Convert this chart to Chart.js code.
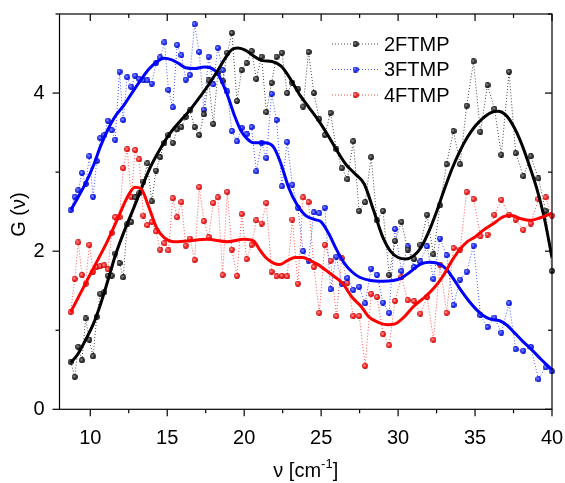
<!DOCTYPE html>
<html>
<head>
<meta charset="utf-8">
<script src="https://cdn.jsdelivr.net/npm/chart.js@4/dist/chart.umd.min.js"></script>
<style>
  html, body { margin: 0; padding: 0; background: #fff; }
</style>
</head>
<body>
<canvas id="chart" width="565" height="483"></canvas>
<script>
// wavenumber grid (cm^-1), shared by the three measured series
const nu = [8.73, 8.99, 9.22, 9.46, 9.70, 9.94, 10.18, 10.42, 10.65, 10.91,
  11.15, 11.39, 11.62, 11.90, 12.14, 12.40, 12.66, 12.92, 13.18, 13.45,
  13.71, 13.99, 14.27, 14.54, 14.82, 15.08, 15.36, 15.64, 15.92, 16.20,
  16.47, 16.78, 17.08, 17.38, 17.69, 17.99, 18.29, 18.60, 18.90, 19.20,
  19.53, 19.84, 20.16, 20.48, 20.79, 21.13, 21.44, 21.78, 22.10, 22.45,
  22.79, 23.13, 23.49, 23.83, 24.18, 24.53, 24.88, 25.24, 25.61, 25.99,
  26.34, 26.71, 27.09, 27.47, 27.86, 28.25, 28.63, 29.02, 29.42, 29.80,
  30.22, 30.63, 31.04, 31.45, 31.88, 32.30, 32.72, 33.15, 33.60, 34.03,
  34.46, 34.90, 35.35, 35.81, 36.26, 36.71, 37.21, 37.64, 38.14, 38.62,
  39.12, 39.59, 40.00];

const g2 = [0.60, 0.41, 0.79, 0.62, 1.15, 0.88, 0.67, 1.17, 1.46, 1.48,
  1.69, 1.69, 1.97, 1.85, 1.67, 2.34, 2.37, 2.68, 2.73, 2.88,
  3.11, 2.63, 3.02, 3.19, 3.37, 3.47, 3.37, 3.54, 3.57, 3.70,
  3.78, 3.57, 3.47, 3.73, 4.16, 3.61, 4.25, 4.15, 4.51, 4.76,
  3.90, 4.29, 4.38, 4.53, 4.18, 4.46, 3.76, 4.13, 4.46, 4.51,
  4.00, 4.13, 4.05, 3.83, 4.52, 4.00, 3.67, 3.47, 3.75, 3.29,
  3.05, 2.91, 3.39, 2.51, 2.62, 3.19, 2.39, 2.51, 1.70, 2.13,
  2.37, 2.02, 1.90, 2.08, 2.46, 1.96, 2.58, 3.10, 3.52, 3.10,
  3.84, 4.40, 3.51, 4.10, 3.80, 3.22, 4.27, 3.24, 2.95, 3.20,
  2.92, 2.51, 1.75];

const g3 = [2.52, 2.69, 2.77, 2.99, 2.85, 3.20, 2.69, 3.14, 3.43, 3.47,
  3.65, 3.53, 3.41, 4.27, 3.66, 4.20, 4.08, 4.22, 4.18, 4.16,
  4.16, 4.12, 4.38, 4.45, 4.64, 4.04, 3.82, 4.61, 4.48, 4.17,
  4.23, 4.87, 4.52, 3.79, 4.46, 4.11, 4.57, 4.29, 4.02, 3.52,
  3.39, 3.56, 3.48, 3.57, 3.01, 3.37, 3.18, 3.99, 3.66, 2.82,
  3.38, 2.84, 2.55, 2.00, 1.88, 2.49, 2.48, 2.55, 1.52, 1.93,
  1.59, 1.66, 1.51, 1.55, 1.34, 1.78, 1.70, 1.35, 1.22, 2.28,
  1.75, 2.06, 1.80, 1.87, 2.06, 1.65, 2.16, 1.95, 1.32, 1.64,
  1.74, 2.07, 1.19, 1.04, 1.16, 0.97, 1.34, 0.76, 0.74, 0.79,
  0.38, 0.53, 0.48];

const g4 = [1.23, 1.65, 2.11, 1.70, 1.59, 2.08, 1.74, 1.80, 1.81, 1.82,
  1.77, 2.23, 2.43, 2.43, 3.05, 3.29, 2.69, 3.28, 3.16, 2.45,
  2.33, 2.37, 2.25, 2.02, 2.10, 2.01, 2.67, 2.43, 2.62, 2.07,
  2.16, 1.89, 2.81, 2.38, 2.18, 2.61, 2.68, 1.70, 2.75, 2.02,
  1.69, 2.47, 1.90, 2.08, 2.39, 2.35, 2.61, 1.74, 1.68, 1.69,
  1.68, 2.40, 1.59, 2.68, 2.62, 1.80, 1.22, 2.08, 1.88, 1.18,
  1.91, 1.60, 1.18, 1.18, 0.55, 1.46, 1.42, 0.95, 0.81, 1.37,
  1.67, 1.38, 1.37, 1.21, 1.42, 0.88, 1.83, 1.22, 2.04, 2.02,
  2.75, 2.66, 2.19, 2.21, 2.46, 2.65, 2.46, 2.40, 2.27, 2.35,
  2.66, 2.68, 2.45];

// smoothed curves
const fitNu2 = [8.73, 9.2, 9.7, 10.2, 10.65, 11.1, 11.6, 12.1, 12.6, 13.1,
  13.5, 14.0, 14.5, 15.0, 15.5, 16.0, 16.5, 17.0, 17.6, 18.2,
  18.7, 19.2, 19.6, 20.1, 20.6, 21.2, 21.8, 22.4, 23.0, 23.6,
  24.2, 24.8, 25.4, 26.0, 26.6, 27.2, 27.8, 28.4, 29.0, 29.5,
  30.0, 30.5, 31.0, 31.5, 32.0, 32.5, 33.0, 33.5, 34.0, 34.5,
  35.0, 35.5, 36.0, 36.5, 37.0, 37.5, 38.0, 38.5, 39.0, 39.5, 40.0];
const fit2 = [0.59, 0.70, 0.88, 1.08, 1.32, 1.60, 1.93, 2.20, 2.44, 2.68,
  2.88, 3.10, 3.28, 3.44, 3.57, 3.68, 3.79, 3.92, 4.08, 4.26,
  4.42, 4.55, 4.57, 4.54, 4.47, 4.41, 4.40, 4.34, 4.18, 3.98,
  3.82, 3.66, 3.48, 3.28, 3.10, 2.98, 2.85, 2.52, 2.18, 2.00,
  1.92, 1.90, 1.94, 2.05, 2.25, 2.50, 2.78, 3.04, 3.26, 3.44,
  3.58, 3.68, 3.75, 3.77, 3.72, 3.58, 3.37, 3.10, 2.80, 2.42, 1.92];

const fitNu3 = [8.73, 9.2, 9.7, 10.2, 10.65, 11.1, 11.6, 12.2, 12.7, 13.3,
  13.8, 14.35, 14.8, 15.3, 15.7, 16.2, 16.8, 17.4, 17.8, 18.3,
  18.9, 19.4, 19.8, 20.2, 20.6, 21.3, 21.9, 22.4, 22.9, 23.4,
  24.0, 24.6, 25.0, 25.5, 26.0, 26.5, 27.0, 27.5, 28.2, 29.0,
  29.7, 30.2, 30.8, 31.4, 32.0, 32.5, 33.1, 33.6, 34.1, 34.6,
  35.0, 35.5, 36.0, 36.6, 37.1, 37.6, 38.1, 38.7, 39.3, 40.0];
const fit3 = [2.52, 2.68, 2.86, 3.08, 3.32, 3.52, 3.70, 3.85, 4.00, 4.17,
  4.30, 4.40, 4.44, 4.42, 4.38, 4.32, 4.31, 4.33, 4.32, 4.24,
  3.98, 3.70, 3.52, 3.42, 3.37, 3.37, 3.32, 3.10, 2.80, 2.60,
  2.45, 2.40, 2.37, 2.22, 2.02, 1.85, 1.74, 1.67, 1.63, 1.62,
  1.63, 1.66, 1.74, 1.83, 1.86, 1.85, 1.78, 1.65, 1.50, 1.37,
  1.28, 1.19, 1.14, 1.12, 1.06, 0.96, 0.86, 0.75, 0.63, 0.50];

const fitNu4 = [8.73, 9.5, 10.3, 11.1, 11.8, 12.4, 12.9, 13.3, 13.8, 14.3,
  14.8, 15.4, 16.3, 17.6, 18.9, 20.0, 20.6, 21.0, 21.4, 21.9,
  22.3, 22.8, 23.3, 23.8, 24.3, 24.8, 25.5, 26.4, 27.0, 27.6,
  28.1, 28.7, 29.3, 29.8, 30.4, 31.0, 31.8, 32.4, 32.9, 33.5,
  34.0, 34.5, 35.0, 35.5, 36.2, 36.9, 37.4, 38.0, 38.6, 39.2, 40.0];
const fit4 = [1.23, 1.52, 1.82, 2.12, 2.42, 2.68, 2.81, 2.79, 2.56, 2.30,
  2.17, 2.12, 2.13, 2.15, 2.12, 2.15, 2.13, 2.02, 1.92, 1.85,
  1.83, 1.88, 1.92, 1.92, 1.88, 1.83, 1.73, 1.59, 1.42, 1.30,
  1.17, 1.10, 1.07, 1.08, 1.17, 1.30, 1.43, 1.55, 1.68, 1.88,
  2.02, 2.12, 2.18, 2.26, 2.35, 2.44, 2.45, 2.41, 2.39, 2.42, 2.48];

const seriesNames = ['2FTMP', '3FTMP', '4FTMP'];
const xMajor = [10, 15, 20, 25, 30, 35, 40];
const xMinor = [12.5, 17.5, 22.5, 27.5, 32.5, 37.5];
const yMajor = [0, 2, 4];
const yMinor = [1, 3, 5];

const FONT = "'Liberation Sans', Arial, sans-serif";

// little shaded balls like the Origin markers
function ball(hi, mid, edge) {
  const c = document.createElement('canvas');
  c.width = c.height = 6;
  const g = c.getContext('2d');
  const gr = g.createRadialGradient(2.2, 2.2, 0.2, 3, 3, 3);
  gr.addColorStop(0, hi);
  gr.addColorStop(0.55, mid);
  gr.addColorStop(1, edge);
  g.fillStyle = gr;
  g.beginPath();
  g.arc(3, 3, 2.9, 0, Math.PI * 2);
  g.fill();
  return c;
}

const balls = [
  ball('#9a9a9a', '#333', '#000'),
  ball('#9aa8ff', '#1a2cff', '#0000b0'),
  ball('#ffb0b0', '#ff2020', '#b00000')
];
const dotColors = ['#444', '#4455ff', '#ff5050'];
const lineColors = ['#000', '#0000ff', '#ff0000'];

const toPts = (xs, ys) => xs.map((x, i) => ({ x: x, y: ys[i] }));

function fitSet(xs, ys, color) {
  return {
    data: toPts(xs, ys),
    showLine: true,
    borderColor: color,
    borderWidth: 3,
    pointRadius: 0,
    cubicInterpolationMode: 'monotone',
    fill: false
  };
}

function rawSet(ys, k) {
  return {
    data: toPts(nu, ys),
    showLine: true,
    borderColor: dotColors[k],
    borderWidth: 1,
    borderDash: [1, 2],
    pointStyle: balls[k],
    pointRadius: 3,
    clip: false
  };
}

const decor = {
  id: 'decor',
  afterDraw(chart) {
    const { ctx, chartArea: a, scales: { x, y } } = chart;
    ctx.save();
    ctx.strokeStyle = '#000';
    ctx.lineWidth = 1.2;
    ctx.setLineDash([]);
    ctx.strokeRect(a.left, a.top, a.right - a.left, a.bottom - a.top);

    function seg(x0, y0, x1, y1) {
      ctx.beginPath();
      ctx.moveTo(x0, y0);
      ctx.lineTo(x1, y1);
      ctx.stroke();
    }
    xMajor.forEach(v => {
      const p = x.getPixelForValue(v);
      seg(p, a.bottom, p, a.bottom + 7);
      seg(p, a.top, p, a.top + 7);
    });
    xMinor.forEach(v => {
      const p = x.getPixelForValue(v);
      seg(p, a.bottom, p, a.bottom + 4);
      seg(p, a.top, p, a.top + 4);
    });
    yMajor.forEach(v => {
      const p = y.getPixelForValue(v);
      seg(a.left - 7, p, a.left, p);
      seg(a.right - 7, p, a.right, p);
    });
    yMinor.forEach(v => {
      const p = y.getPixelForValue(v);
      seg(a.left - 4, p, a.left, p);
      seg(a.right - 4, p, a.right, p);
    });

    // axis titles
    ctx.fillStyle = '#000';
    ctx.font = '20px ' + FONT;
    ctx.textBaseline = 'alphabetic';
    const t1 = '\u03bd [cm', t2 = '-1', t3 = ']';
    const w1 = ctx.measureText(t1).width;
    ctx.font = '13px ' + FONT;
    const w2 = ctx.measureText(t2).width;
    ctx.font = '20px ' + FONT;
    const w3 = ctx.measureText(t3).width;
    let tx = (a.left + a.right) / 2 - (w1 + w2 + w3) / 2;
    const ty = 477;
    ctx.textAlign = 'left';
    ctx.fillText(t1, tx, ty);
    ctx.font = '13px ' + FONT;
    ctx.fillText(t2, tx + w1, ty - 9);
    ctx.font = '20px ' + FONT;
    ctx.fillText(t3, tx + w1 + w2, ty);

    ctx.save();
    ctx.translate(25, (a.top + a.bottom) / 2 + 3);
    ctx.rotate(-Math.PI / 2);
    ctx.textAlign = 'center';
    ctx.fillText('G (\u03bd)', 0, 0);
    ctx.restore();

    // legend
    const rows = [44, 69.5, 95];
    ctx.font = '20px ' + FONT;
    ctx.textAlign = 'left';
    ctx.textBaseline = 'middle';
    seriesNames.forEach((name, k) => {
      const ry = rows[k];
      ctx.strokeStyle = dotColors[k];
      ctx.lineWidth = 1;
      ctx.setLineDash([1, 2]);
      seg(332, ry, 379, ry);
      ctx.setLineDash([]);
      ctx.drawImage(balls[k], 352.5, ry - 3);
      ctx.fillStyle = '#000';
      ctx.fillText(name, 384, ry + 1);
    });
    ctx.restore();
  }
};

new Chart(document.getElementById('chart'), {
  type: 'scatter',
  data: {
    datasets: [
      fitSet(fitNu4, fit4, lineColors[2]),
      fitSet(fitNu2, fit2, lineColors[0]),
      fitSet(fitNu3, fit3, lineColors[1]),
      rawSet(g2, 0),
      rawSet(g3, 1),
      rawSet(g4, 2)
    ]
  },
  options: {
    responsive: false,
    animation: false,
    devicePixelRatio: 1,
    layout: { padding: { left: 0, right: 13, top: 14, bottom: 0 } },
    plugins: { legend: { display: false }, tooltip: { enabled: false } },
    scales: {
      x: {
        type: 'linear',
        min: 8,
        max: 40,
        afterFit: s => { s.height = 73.7; },
        afterBuildTicks: s => { s.ticks = xMajor.map(v => ({ value: v })); },
        // tick marks are drawn by the plugin; tickLength only offsets the labels
        grid: { display: false, drawTicks: true, tickLength: 17 },
        border: { display: false },
        ticks: { font: { size: 20, family: FONT }, color: '#000', padding: 0, maxRotation: 0 }
      },
      y: {
        type: 'linear',
        min: 0,
        max: 5,
        afterFit: s => { s.width = 59.5; },
        afterBuildTicks: s => { s.ticks = yMajor.map(v => ({ value: v })); },
        grid: { display: false, drawTicks: true, tickLength: 15 },
        border: { display: false },
        ticks: { font: { size: 20, family: FONT }, color: '#000', padding: 0 }
      }
    }
  },
  plugins: [decor]
});
</script>
</body>
</html>
